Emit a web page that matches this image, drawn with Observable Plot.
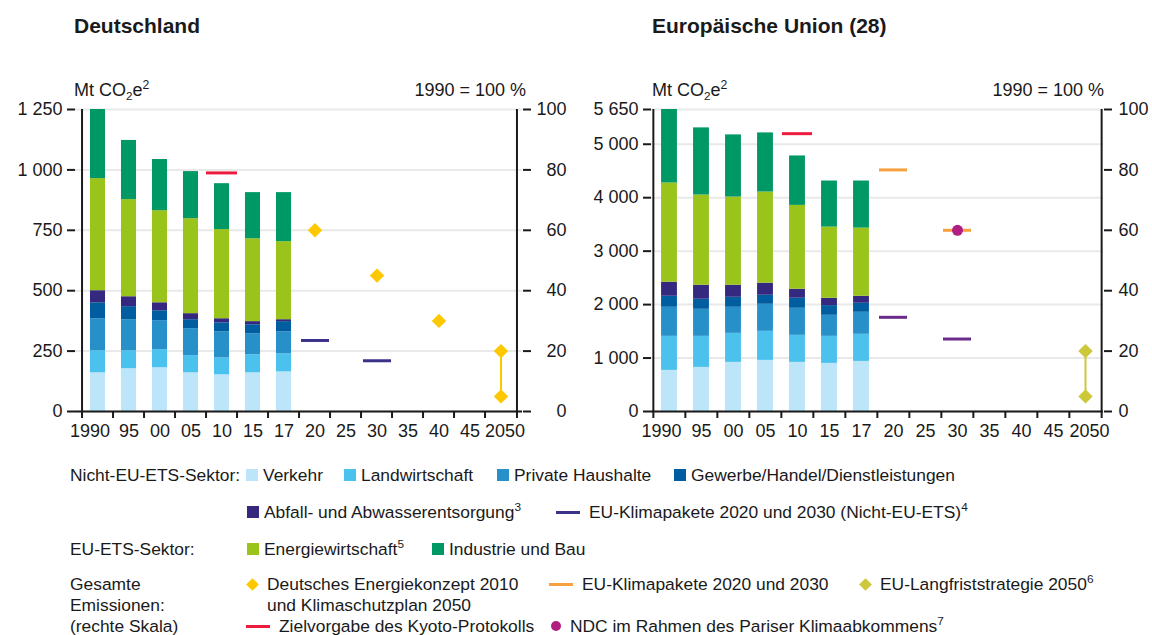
<!DOCTYPE html>
<html lang="de"><head><meta charset="utf-8">
<script src="https://cdn.jsdelivr.net/npm/d3@7"></script>
<script src="https://cdn.jsdelivr.net/npm/@observablehq/plot@0.6"></script>
<style>
html,body{margin:0;padding:0;background:#fff}
body{width:1152px;height:635px;position:relative;overflow:hidden;font-family:"Liberation Sans",Arial,sans-serif;color:#1a1a1a}
.a{position:absolute;white-space:nowrap;line-height:1}
.t{font-size:21px;font-weight:bold}
.u{font-size:18px}
.l{font-size:17.4px}
sub{font-size:0.65em;vertical-align:-0.3em;line-height:0}
sup{font-size:0.68em;vertical-align:0.6em;line-height:0}
</style></head><body>
<div class="a t" style="left:74px;top:15px">Deutschland</div>
<div class="a t" style="left:652px;top:15px">Europäische Union (28)</div>
<div class="a u" style="left:74px;top:81px">Mt CO<sub>2</sub>e<sup>2</sup></div>
<div class="a u" style="right:626px;top:81px">1990 = 100 %</div>
<div class="a u" style="left:652px;top:81px">Mt CO<sub>2</sub>e<sup>2</sup></div>
<div class="a u" style="right:48px;top:81px">1990 = 100 %</div>
<div id="de" class="a" style="left:0;top:90px"></div>
<div id="eu" class="a" style="left:576px;top:90px"></div>
<div id="legend"></div>
<script>
// ---------- data ----------
const categories = ["1990","95","00","05","10","15","17","20","25","30","35","40","45","2050"];
const barYears = ["1990","95","00","05","10","15","17"];
const sectors = ["Verkehr","Landwirtschaft","Private Haushalte","Gewerbe/Handel/Dienstleistungen","Abfall- und Abwasserentsorgung","Energiewirtschaft","Industrie und Bau"];
const sectorColors = ["#bde5fa","#4bc1ee","#2890c8","#005d9f","#34297f","#9ac31c","#009865"];

const pctTicks = [0,20,40,60,80,100];

// Deutschland (Mt CO2e)
const deTotal1990 = 1250;
const deMtTicks = [0,250,500,750,1000,1250];
const deVerkehr        = [160,177,181,160,152,160,164];
const deLandwirtschaft = [91,74,75,71,70,75,75];
const deHaushalte      = [133,129,120,112,108,87,91];
const deGewerbe        = [66,54,41,37,37,37,42];
const deAbfall         = [50,41,33,25,17,13,8];
const deEnergie        = [464,402,381,393,369,343,323];
const deIndustrie      = [286,245,212,195,190,191,203];
const deKyotoCats = ["10"];            const deKyotoPct = [79];
const deKonzeptCats = ["20","30","40","2050","2050"]; const deKonzeptPct = [60,45,30,20,5];
const deNonEtsCats = ["20","30"];      const deNonEtsMt = [294,210];

// Europäische Union (28)
const euTotal1990 = 5650;
const euMtTicks = [0,1000,2000,3000,4000,5000,5650];
const euVerkehr        = [769,825,919,956,919,900,937];
const euLandwirtschaft = [637,581,543,544,506,506,507];
const euHaushalte      = [544,506,488,506,506,394,412];
const euGewerbe        = [206,188,187,169,188,181,169];
const euAbfall         = [263,262,225,225,168,138,131];
const euEnergie        = [1856,1688,1650,1706,1569,1331,1275];
const euIndustrie      = [1375,1256,1163,1106,925,862,881];
const euKyotoCats = ["10"];            const euKyotoPct = [92];
const euPaketCats = ["20","30"];       const euPaketPct = [80,60];
const euNdcCats = ["30"];              const euNdcPct = [60];
const euLangfristCats = ["2050","2050"]; const euLangfristPct = [20,5];
const euNonEtsCats = ["20","30"];      const euNonEtsMt = [1762,1356];

// ---------- colours ----------
const cYellow = "#fdc800", cOrange = "#f7a040", cOlive = "#cdc73a", cRed = "#ed1c3e",
      cMagenta = "#b01e81", cNonEtsDe = "#3b3188", cNonEtsEu = "#6a2b8b";

const FONT = "'Liberation Sans', Arial, sans-serif";
const zip = (cats, vals, key) => cats.map((c, i) => ({cat: c, [key]: vals[i]}));

function chart({series, total, mtTicks, ml, mr, rightStart, extra}) {
  const W = 576, H = 370, mt = 19, mb = 49;
  const bw = (W - ml - mr) / categories.length;
  const first = categories[0], last = categories[categories.length - 1];
  const rows = [];
  barYears.forEach((yr, i) => sectors.forEach((s, j) => rows.push({year: yr, sector: s, value: series[j][i]})));
  const pctToMt = p => p * total / 100;
  const fmt = d => d3.format(",")(d).replace(/,/g, " ");
  const rightFmt = d => Math.round(d / total * 100);
  return Plot.plot({
    width: W, height: H, marginTop: mt, marginBottom: mb, marginLeft: ml, marginRight: mr,
    style: {fontFamily: FONT, fontSize: "18px", color: "#1a1a1a", background: "transparent", overflow: "visible"},
    x: {type: "band", domain: categories, padding: 0, label: null},
    y: {domain: [0, total], label: null},
    color: {domain: sectors, range: sectorColors},
    marks: [
      Plot.ruleY(mtTicks, {stroke: "#e9e9e9", strokeWidth: 2}),
      Plot.barY(rows, {x: "year", y: "value", fill: "sector", insetLeft: bw / 4, insetRight: bw / 4}),
      ...extra(pctToMt),
      Plot.ruleX([first], {y1: 0, y2: total, dx: -bw / 2, strokeWidth: 2}),
      Plot.ruleX([last], {y1: 0, y2: total, dx: bw / 2, strokeWidth: 2}),
      Plot.ruleY([0], {strokeWidth: 2}),
      Plot.axisY({ticks: mtTicks, tickFormat: fmt, tickSize: 8, tickPadding: 5, strokeWidth: 2, label: null}),
      rightStart
        ? Plot.axisY({anchor: "right", ticks: pctTicks.map(pctToMt), tickFormat: rightFmt, tickSize: 8, tickPadding: 7, textAnchor: "start", strokeWidth: 2, label: null})
        : Plot.axisY({anchor: "right", ticks: pctTicks.map(pctToMt), tickFormat: rightFmt, tickSize: 8, tickPadding: 36, textAnchor: "end", strokeWidth: 2, label: null}),
      Plot.axisX(categories, {tickSize: 7, fill: "none", dx: -bw / 2, strokeWidth: 2, label: null}),
      Plot.axisX([last], {tickSize: 7, fill: "none", dx: bw / 2, strokeWidth: 2, label: null}),
      Plot.axisX(categories.slice(1, -1), {tickSize: 0, tickPadding: 13, label: null}),
      Plot.axisX([first], {tickSize: 0, tickPadding: 13, dx: -8, label: null}),
      Plot.axisX([last], {tickSize: 0, tickPadding: 13, dx: 4, label: null})
    ]
  });
}

function diamonds(cats, pcts, color, toMt) {
  const d = zip(cats, pcts, "pct");
  const last = categories[categories.length - 1];
  const end = d.filter(e => e.cat === last).map(e => e.pct);
  return [
    Plot.ruleX([last], {y1: toMt(d3.min(end)), y2: toMt(d3.max(end)), stroke: color, strokeWidth: 2}),
    Plot.dot(d, {x: "cat", y: e => toMt(e.pct), symbol: "diamond2", r: 6.5, fill: color})
  ];
}

const de = chart({
  series: [deVerkehr, deLandwirtschaft, deHaushalte, deGewerbe, deAbfall, deEnergie, deIndustrie],
  total: deTotal1990, mtTicks: deMtTicks, ml: 75, mr: 54, rightStart: false,
  extra: toMt => [
    Plot.tickY(zip(deKyotoCats, deKyotoPct, "pct"), {x: "cat", y: e => toMt(e.pct), stroke: cRed, strokeWidth: 3}),
    Plot.tickY(zip(deNonEtsCats, deNonEtsMt, "mt"), {x: "cat", y: "mt", stroke: cNonEtsDe, strokeWidth: 3, insetLeft: 2, insetRight: 1}),
    ...diamonds(deKonzeptCats, deKonzeptPct, cYellow, toMt)
  ]
});
document.getElementById("de").append(de);

const eu = chart({
  series: [euVerkehr, euLandwirtschaft, euHaushalte, euGewerbe, euAbfall, euEnergie, euIndustrie],
  total: euTotal1990, mtTicks: euMtTicks, ml: 75, mr: 49, rightStart: true,
  extra: toMt => [
    Plot.tickY(zip(euKyotoCats, euKyotoPct, "pct"), {x: "cat", y: e => toMt(e.pct), stroke: cRed, strokeWidth: 3, insetLeft: 1, insetRight: 1}),
    Plot.tickY(zip(euPaketCats, euPaketPct, "pct"), {x: "cat", y: e => toMt(e.pct), stroke: cOrange, strokeWidth: 3, insetLeft: 2, insetRight: 2}),
    Plot.tickY(zip(euNonEtsCats, euNonEtsMt, "mt"), {x: "cat", y: "mt", stroke: cNonEtsEu, strokeWidth: 3, insetLeft: 2, insetRight: 2}),
    Plot.dot(zip(euNdcCats, euNdcPct, "pct"), {x: "cat", y: e => toMt(e.pct), r: 5.5, fill: cMagenta}),
    ...diamonds(euLangfristCats, euLangfristPct, cOlive, toMt)
  ]
});
document.getElementById("eu").append(eu);

// ---------- legend ----------
const legendItems = [
  ["label", null, 70, 481, "Nicht-EU-ETS-Sektor:"],
  ["sq", sectorColors[0], 246, 481, "Verkehr"],
  ["sq", sectorColors[1], 344, 481, "Landwirtschaft"],
  ["sq", sectorColors[2], 497, 481, "Private Haushalte"],
  ["sq", sectorColors[3], 674, 481, "Gewerbe/Handel/Dienstleistungen"],
  ["sq", sectorColors[4], 247, 518, "Abfall- und Abwasserentsorgung<sup>3</sup>"],
  ["line", cNonEtsDe, 556, 518, "EU-Klimapakete 2020 und 2030 (Nicht-EU-ETS)<sup>4</sup>"],
  ["label", null, 70, 555, "EU-ETS-Sektor:"],
  ["sq", sectorColors[5], 247, 555, "Energiewirtschaft<sup>5</sup>"],
  ["sq", sectorColors[6], 432, 555, "Industrie und Bau"],
  ["label", null, 70, 590, "Gesamte"],
  ["label", null, 70, 611, "Emissionen:"],
  ["label", null, 70, 632, "(rechte Skala)"],
  ["dia", cYellow, 246, 590, "Deutsches Energiekonzept 2010"],
  ["label", null, 267, 611, "und Klimaschutzplan 2050"],
  ["line", cOrange, 549, 590, "EU-Klimapakete 2020 und 2030"],
  ["dia", cOlive, 859, 590, "EU-Langfriststrategie 2050<sup>6</sup>"],
  ["line", cRed, 246, 632, "Zielvorgabe des Kyoto-Protokolls"],
  ["dot", cMagenta, 551, 632, "NDC im Rahmen des Pariser Klimaabkommens<sup>7</sup>"]
];
const leg = document.getElementById("legend");
for (const [kind, color, x, b, html] of legendItems) {
  const mid = b - 6;
  let tx = x;
  if (kind !== "label") {
    const s = document.createElement("div");
    s.className = "a";
    if (kind === "sq") { Object.assign(s.style, {left: x + "px", top: (mid - 6) + "px", width: "12px", height: "12px", background: color}); tx = x + 17; }
    if (kind === "line") { Object.assign(s.style, {left: x + "px", top: (mid - 1.5) + "px", width: "24px", height: "3px", background: color}); tx = x + 33; }
    if (kind === "dia") { Object.assign(s.style, {left: (x + 1.5) + "px", top: (mid - 4.5) + "px", width: "9px", height: "9px", background: color, transform: "rotate(45deg)"}); tx = x + 21; }
    if (kind === "dot") { Object.assign(s.style, {left: x + "px", top: (mid - 5) + "px", width: "10px", height: "10px", borderRadius: "50%", background: color}); tx = x + 19; }
    leg.append(s);
  }
  const t = document.createElement("div");
  t.className = "a l";
  t.style.left = tx + "px";
  t.style.top = (b - 13.8) + "px";
  t.innerHTML = html;
  leg.append(t);
}
</script>
</body></html>
